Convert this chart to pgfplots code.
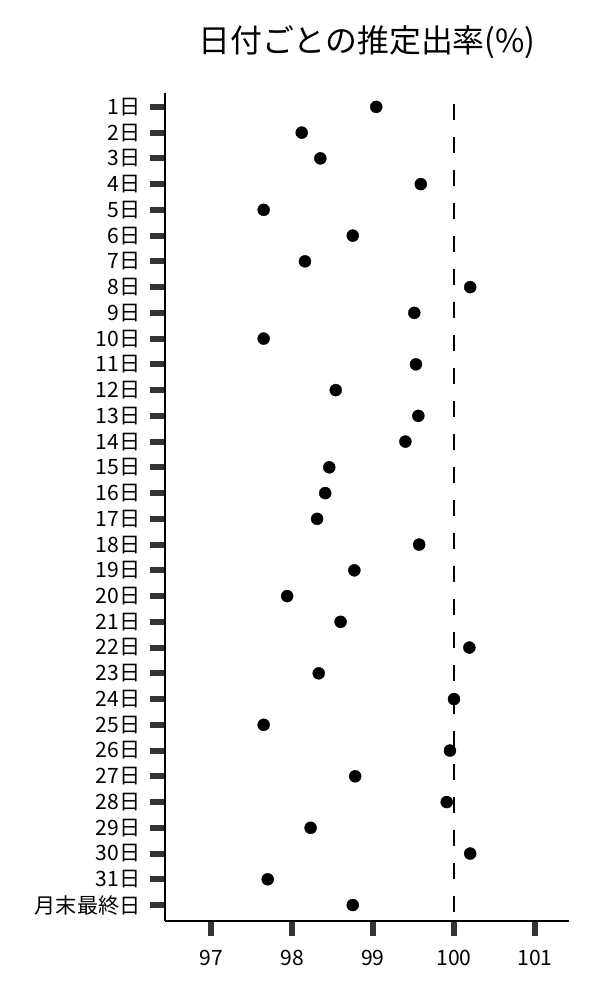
\documentclass[border=0pt]{standalone}
\usepackage{fontspec}
\setmainfont{Noto Sans CJK JP}
\usepackage{pgfplots}
\pgfplotsset{compat=1.18}
\usepackage{pgfplotstable}
\definecolor{tickgray}{HTML}{333333}

% pos: 31 = 1日 ... 0 = 月末最終日
\pgfplotstableread{
pos val
31 99.04
30 98.12
29 98.35
28 99.59
27 97.65
26 98.75
25 98.16
24 100.20
23 99.51
22 97.65
21 99.53
20 98.54
19 99.56
18 99.40
17 98.46
16 98.41
15 98.31
14 99.57
13 98.77
12 97.94
11 98.60
10 100.19
9 98.33
8 100.00
7 97.65
6 99.95
5 98.78
4 99.91
3 98.23
2 100.20
1 97.70
0 98.75
}\ratetable

\begin{document}
\begin{tikzpicture}
\begin{axis}[
  scale only axis,
  width=404bp, height=828bp,
  xmin=96.432, xmax=101.42,
  ymin=-0.62, ymax=31.54,
  axis x line*=bottom, axis y line*=left,
  axis line style={line width=1.3bp, black},
  xtick={97,98,99,100,101},
  ytick={0,...,31},
  yticklabels={月末最終日,31日,30日,29日,28日,27日,26日,25日,24日,23日,22日,21日,20日,19日,18日,17日,16日,15日,14日,13日,12日,11日,10日,9日,8日,7日,6日,5日,4日,3日,2日,1日},
  tick align=outside,
  major tick length=15bp,
  tick style={line width=6bp, tickgray},
  ticklabel style={font=\fontsize{21.2}{25}\selectfont},
  yticklabel style={xshift=-6bp},
  xticklabel style={yshift=-11bp},
  /pgf/number format/assume math mode=true,
  clip=false,
]
\addplot[only marks, mark=*, mark size=6bp, black] table[x=val, y=pos] {\ratetable};
\addplot[black, line width=1.8bp, dash pattern=on 16bp off 17bp, dash phase=22bp] coordinates {(100,31.54) (100,-0.62)};
\node[font=\fontsize{32}{38}\selectfont] at (rel axis cs:0.5,1.0616) {日付ごとの推定出率(\%)};
\coordinate (BL) at (rel axis cs:-0.4084,-0.0954);
\coordinate (TR) at (rel axis cs:1.0767,1.1123);
\end{axis}
\pgfresetboundingbox
\useasboundingbox (BL) rectangle (TR);
\end{tikzpicture}
\end{document}
